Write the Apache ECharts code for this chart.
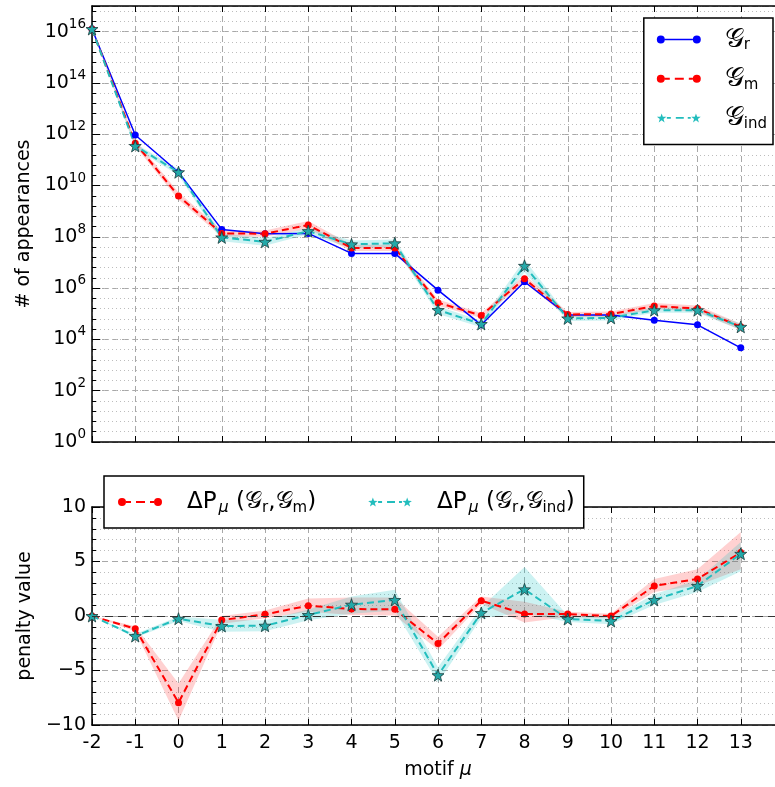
<!DOCTYPE html>
<html>
<head>
<meta charset="utf-8">
<script src="https://cdn.jsdelivr.net/npm/echarts@6/dist/echarts.min.js"></script>
<style>
  html, body { margin: 0; padding: 0; background: #fff; }
  #chart { width: 775px; height: 787px; }
</style>
</head>
<body>
<div id="chart"></div>
<script>
// motif index on the x axis
const mu = [-2, -1, 0, 1, 2, 3, 4, 5, 6, 7, 8, 9, 10, 11, 12, 13];
const xTickLabels = ['-2', '-1', '0', '1', '2', '3', '4', '5', '6', '7', '8', '9', '10', '11', '12', '13'];
const yTickExponents = [0, 2, 4, 6, 8, 10, 12, 14, 16];

// top panel: # of appearances
const countR = [1.27e16, 9.3e11, 3.3e10, 1.95e8, 1.32e8, 1.36e8, 2.26e7, 2.26e7, 8.3e5, 3.7e4, 1.77e6, 8.9e4, 8.9e4, 5.6e4, 3.7e4, 4.7e3];
const countM = [1.27e16, 4.5e11, 3.9e9, 1.36e8, 1.32e8, 2.9e8, 3.7e7, 3.7e7, 2.7e5, 8.6e4, 2.3e6, 9.4e4, 9.7e4, 2.0e5, 1.6e5, 3.1e4];
const countMLow = [1.27e16, 3.4e11, 2.8e9, 1.03e8, 1.0e8, 2.05e8, 2.8e7, 2.8e7, 2.05e5, 6.8e4, 1.63e6, 7.5e4, 7.7e4, 1.52e5, 1.21e5, 2.35e4];
const countMHigh = [1.27e16, 5.9e11, 5.5e9, 1.8e8, 1.75e8, 4.1e8, 4.9e7, 4.9e7, 3.6e5, 1.08e5, 3.25e6, 1.18e5, 1.22e5, 2.64e5, 2.1e5, 4.1e4];
const countInd = [1.27e16, 3.5e11, 3.3e10, 9.5e7, 6.4e7, 1.67e8, 5.1e7, 5.6e7, 1.4e5, 4.0e4, 7.4e6, 6.6e4, 6.9e4, 1.38e5, 1.38e5, 3.1e4];
const countIndLow = [1.27e16, 2.8e11, 2.5e10, 6.7e7, 4.5e7, 1.27e8, 3.6e7, 4.0e7, 9.9e4, 3.0e4, 4.2e6, 5.2e4, 5.5e4, 1.1e5, 1.1e5, 2.35e4];
const countIndHigh = [1.27e16, 4.4e11, 4.4e10, 1.34e8, 9.0e7, 2.2e8, 7.2e7, 7.9e7, 1.98e5, 5.3e4, 1.32e7, 8.3e4, 8.7e4, 1.74e5, 1.74e5, 4.1e4];

// bottom panel: penalty values
const penM = [0, -1.17, -7.95, -0.37, 0.15, 0.95, 0.64, 0.61, -2.52, 1.41, 0.18, 0.18, 0.0, 2.76, 3.4, 5.83];
const penMLow = [0, -1.4, -9.6, -0.7, -0.2, 0.4, 0.1, 0.05, -3.1, 1.1, -0.6, -0.1, -0.2, 2.2, 2.8, 4.3];
const penMHigh = [0, -0.95, -6.2, 0.0, 0.5, 1.6, 1.7, 1.7, -1.9, 1.8, 1.3, 0.4, 0.2, 3.4, 4.3, 7.7];
const penInd = [0, -1.84, -0.25, -0.92, -0.89, 0.09, 1.04, 1.47, -5.43, 0.28, 2.45, -0.28, -0.46, 1.47, 2.76, 5.71];
const penIndLow = [0, -2.0, -0.45, -1.45, -1.4, -0.4, 0.2, 0.5, -6.1, -0.2, 0.3, -0.55, -0.75, 1.0, 2.2, 4.1];
const penIndHigh = [0, -1.65, -0.05, -0.35, -0.4, 0.6, 1.8, 2.4, -4.7, 0.8, 4.5, 0.05, -0.15, 2.0, 3.3, 6.8];

const FONT = 'DejaVu Sans';
const CAL = 'DejaVu Serif';
const BLUE = '#0000ff';
const RED = '#ff0000';
const CYAN = '#22bdbd';
const STAR_FACE = '#23a9a9';

const starSymbol = 'path://M0,-10 L2.35,-3.24 L9.51,-3.09 L3.8,1.24 L5.88,8.09 L0,4 L-5.88,8.09 L-3.8,1.24 L-9.51,-3.09 L-2.35,-3.24 Z';

// legend icons: marker at both ends, line between (44 x 9 box)
const circL = 'M0,4.5 A4,4 0 1,1 8,4.5 A4,4 0 1,1 0,4.5 Z ';
const circR = 'M36,4.5 A4,4 0 1,1 44,4.5 A4,4 0 1,1 36,4.5 Z ';
function starAt(cx) {
  let d = '';
  for (let k = 0; k < 10; k++) {
    const r = k % 2 ? 2 : 5;
    const a = (-90 + 36 * k) * Math.PI / 180;
    d += (k ? 'L' : 'M') + (cx + r * Math.cos(a)).toFixed(2) + ',' + (5 + r * Math.sin(a)).toFixed(2) + ' ';
  }
  return d + 'Z ';
}
const dash = (a, b) => 'M' + a + ',3.5 L' + b + ',3.5 L' + b + ',5.5 L' + a + ',5.5 Z ';
const iconBlue = 'path://' + circL + 'M8,3.8 L36,3.8 L36,5.2 L8,5.2 Z ' + circR;
const iconRed = 'path://' + circL + dash(8, 13) + dash(18, 27) + dash(32, 36) + circR;
const iconCyan = 'path://' + starAt(4.75) + dash(10, 14) + dash(19, 27) + dash(31, 34) + starAt(39.25);

const legendNames = {
  Gr: '{g|𝒢}{sub|r}',
  Gm: '{g|𝒢}{sub|m}',
  Gind: '{g|𝒢}{sub|ind}',
  dPm: '{t|ΔP}{mu|μ}{t| (}{g2|𝒢}{sub|r}{t|,}{g2|𝒢}{sub|m}{t|)}',
  dPind: '{t|ΔP}{mu|μ}{t| (}{g2|𝒢}{sub|r}{t|,}{g2|𝒢}{sub|ind}{t|)}'
};
const legendRich = {
  t: { fontFamily: FONT, fontSize: 23, lineHeight: 30, color: '#000' },
  g: { fontFamily: CAL, fontSize: 27, lineHeight: 30, color: '#000' },
  g2: { fontFamily: CAL, fontSize: 24, lineHeight: 30, color: '#000' },
  sub: { fontFamily: FONT, fontSize: 15, lineHeight: 18, padding: [12, 0, 0, 0], color: '#000' },
  mu: { fontFamily: FONT, fontSize: 16, fontStyle: 'italic', lineHeight: 18, padding: [12, 0, 0, 2], color: '#000' }
};

const majorGrid = { show: true, lineStyle: { color: '#a8a8a8', type: [6, 4], width: 1 } };
const minorGrid = { show: true, lineStyle: { color: '#bdbdbd', type: [1, 3], width: 1 } };

function bandSeries(xi, yi, low, high, fill) {
  return {
    type: 'custom',
    xAxisIndex: xi,
    yAxisIndex: yi,
    silent: true,
    z: 1,
    data: [[mu[0], high[0]]],
    renderItem: function (params, api) {
      const pts = [];
      for (let i = 0; i < mu.length; i++) pts.push(api.coord([mu[i], high[i]]));
      for (let i = mu.length - 1; i >= 0; i--) pts.push(api.coord([mu[i], low[i]]));
      return { type: 'polygon', shape: { points: pts }, style: { fill: fill } };
    }
  };
}

function pairs(ys) {
  return mu.map((m, i) => [m, ys[i]]);
}

// the plot runs past the right edge of the picture (up to 14)
function xAxisBase(gi, pos) {
  return {
    type: 'value', gridIndex: gi, position: pos, min: -2, max: 14, interval: 1,
    axisLine: { show: true, onZero: false, lineStyle: { color: '#000', width: 1.5 } },
    axisTick: { show: true, inside: true, length: 6, lineStyle: { color: '#000' } },
    axisLabel: { show: false },
    splitLine: { show: false }
  };
}

const chart = echarts.init(document.getElementById('chart'));
chart.setOption({
  animation: false,
  backgroundColor: '#fff',
  textStyle: { fontFamily: FONT },
  grid: [
    { left: 92, top: 6, width: 692, height: 436, outerBoundsMode: 'none' },
    { left: 92, top: 507, width: 692, height: 218, outerBoundsMode: 'none' }
  ],
  xAxis: [
    Object.assign(xAxisBase(0, 'bottom'), { splitLine: majorGrid }),
    xAxisBase(0, 'top'),
    Object.assign(xAxisBase(1, 'bottom'), {
      splitLine: majorGrid,
      name: '{n|motif }{i|μ}',
      nameLocation: 'middle',
      nameGap: 36,
      nameTextStyle: {
        rich: {
          n: { fontFamily: FONT, fontSize: 19, color: '#000' },
          i: { fontFamily: FONT, fontSize: 19, fontStyle: 'italic', color: '#000' }
        }
      },
      axisLabel: {
        show: true, margin: 9, fontFamily: FONT, fontSize: 19, color: '#000',
        formatter: v => { const i = mu.indexOf(v); return i >= 0 ? xTickLabels[i] : ''; }
      }
    }),
    xAxisBase(1, 'top')
  ],
  yAxis: [
    // data axis (log scale), hidden
    { type: 'log', logBase: 10, gridIndex: 0, min: 1, max: 1e17, show: false, axisLine: { onZero: false } },
    // labels + major grid, in decades
    {
      type: 'value', gridIndex: 0, position: 'left', min: 0, max: 17, interval: 2,
      name: '# of appearances', nameLocation: 'middle', nameGap: 58,
      nameTextStyle: { fontFamily: FONT, fontSize: 19, color: '#000' },
      axisLine: { show: true, onZero: false, lineStyle: { color: '#000', width: 1.5 } },
      axisTick: { show: true, inside: true, length: 8, lineStyle: { color: '#000' } },
      splitLine: majorGrid,
      axisLabel: {
        margin: 6, color: '#000',
        formatter: v => yTickExponents.indexOf(v) >= 0 ? '{b|10}{s|' + v + '}' : '',
        rich: {
          b: { fontFamily: FONT, fontSize: 19, color: '#000' },
          s: { fontFamily: FONT, fontSize: 13.5, color: '#000', padding: [0, 0, 15, 0] }
        }
      }
    },
    // minor grid
    {
      type: 'value', gridIndex: 0, position: 'left', min: 0, max: 17, interval: 0.4,
      axisLine: { show: false, onZero: false },
      axisTick: { show: true, inside: true, length: 4, lineStyle: { color: '#000' } },
      axisLabel: { show: false },
      splitLine: minorGrid
    },
    {
      type: 'value', gridIndex: 1, position: 'left', min: -10, max: 10, interval: 5,
      name: 'penalty value', nameLocation: 'middle', nameGap: 52,
      nameTextStyle: { fontFamily: FONT, fontSize: 19, color: '#000' },
      axisLine: { show: true, onZero: false, lineStyle: { color: '#000', width: 1.5 } },
      axisTick: { show: true, inside: true, length: 8, lineStyle: { color: '#000' } },
      minorTick: { show: true, splitNumber: 5, length: 4, lineStyle: { color: '#000' } },
      splitLine: majorGrid,
      minorSplitLine: minorGrid,
      axisLabel: {
        margin: 6, fontFamily: FONT, fontSize: 19, color: '#000',
        formatter: v => String(v).replace('-', '\u2212')
      }
    }
  ],
  legend: [
    {
      selectedMode: false,
      orient: 'vertical', right: 2, top: 18,
      backgroundColor: '#fff', borderColor: '#000', borderWidth: 1.5, borderRadius: 0,
      padding: [8, 6, 13, 13],
      itemWidth: 44, itemHeight: 9, itemGap: 12.2,
      textStyle: { padding: [0, 0, 0, 19], rich: legendRich },
      formatter: name => legendNames[name],
      data: [
        { name: 'Gr', icon: iconBlue },
        { name: 'Gm', icon: iconRed },
        { name: 'Gind', icon: iconCyan, itemStyle: { borderWidth: 0, color: CYAN } }
      ]
    },
    {
      selectedMode: false,
      orient: 'horizontal', left: 104, top: 476,
      backgroundColor: '#fff', borderColor: '#000', borderWidth: 1.5, borderRadius: 0,
      padding: [12, 9, 12, 14],
      itemWidth: 44, itemHeight: 9, itemGap: 52,
      textStyle: { padding: [0, 0, 0, 20], rich: legendRich },
      formatter: name => legendNames[name],
      data: [
        { name: 'dPm', icon: iconRed },
        { name: 'dPind', icon: iconCyan, itemStyle: { borderWidth: 0, color: CYAN } }
      ]
    }
  ],
  series: [
    bandSeries(0, 0, countMLow, countMHigh, 'rgba(255,0,0,0.18)'),
    bandSeries(0, 0, countIndLow, countIndHigh, 'rgba(0,191,191,0.2)'),
    {
      name: 'Gr', type: 'line', xAxisIndex: 0, yAxisIndex: 0, data: pairs(countR),
      symbol: 'circle', symbolSize: 7, z: 3,
      lineStyle: { color: BLUE, width: 1.5 }, itemStyle: { color: BLUE }
    },
    {
      name: 'Gm', type: 'line', xAxisIndex: 0, yAxisIndex: 0, data: pairs(countM),
      symbol: 'circle', symbolSize: 7, z: 3,
      lineStyle: { color: RED, width: 2, type: [7, 4] }, itemStyle: { color: RED }
    },
    {
      name: 'Gind', type: 'line', xAxisIndex: 0, yAxisIndex: 0, data: pairs(countInd),
      symbol: starSymbol, symbolSize: 12, z: 3,
      lineStyle: { color: CYAN, width: 2, type: [7, 4] },
      itemStyle: { color: STAR_FACE, borderColor: '#1b3a3a', borderWidth: 0.8 }
    },
    bandSeries(2, 3, penMLow, penMHigh, 'rgba(255,0,0,0.18)'),
    bandSeries(2, 3, penIndLow, penIndHigh, 'rgba(0,191,191,0.2)'),
    {
      name: 'dPm', type: 'line', xAxisIndex: 2, yAxisIndex: 3, data: pairs(penM),
      symbol: 'circle', symbolSize: 7, z: 3,
      lineStyle: { color: RED, width: 2, type: [7, 4] }, itemStyle: { color: RED },
      markLine: {
        silent: true, symbol: 'none', label: { show: false },
        lineStyle: { color: '#333', type: [8, 5], width: 1 },
        data: [{ yAxis: 0 }]
      }
    },
    {
      name: 'dPind', type: 'line', xAxisIndex: 2, yAxisIndex: 3, data: pairs(penInd),
      symbol: starSymbol, symbolSize: 12, z: 3,
      lineStyle: { color: CYAN, width: 2, type: [7, 4] },
      itemStyle: { color: STAR_FACE, borderColor: '#1b3a3a', borderWidth: 0.8 }
    }
  ]
});
</script>
</body>
</html>
